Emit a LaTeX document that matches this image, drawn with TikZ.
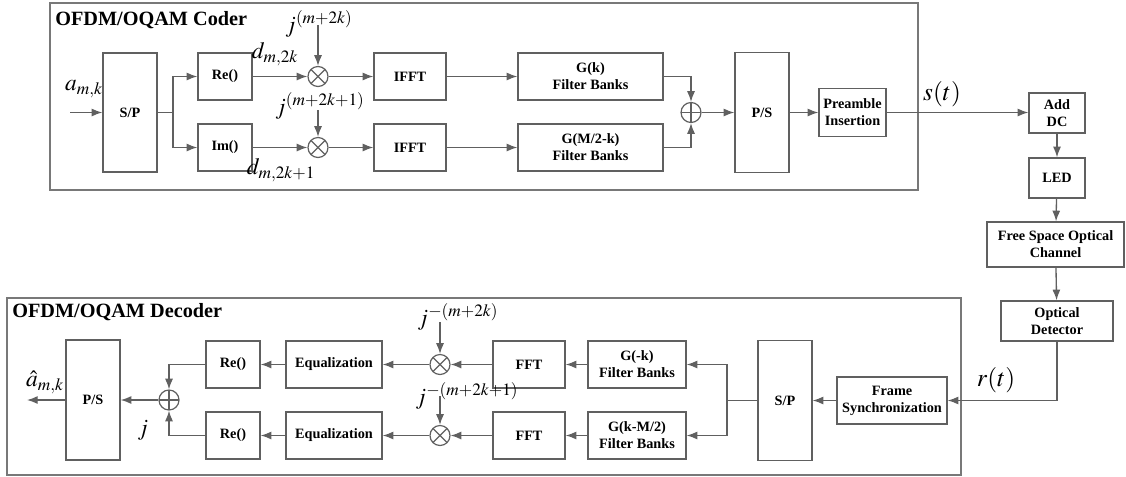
\documentclass[tikz,border=0pt]{standalone}
\usepackage{mathptmx}
\usepackage[no-math]{fontspec}
\setmainfont{Liberation Serif}
\usetikzlibrary{arrows.meta, calc, positioning}
\definecolor{blockgray}{RGB}{96,96,96}

\begin{document}
\begin{tikzpicture}[x=0.75pt, y=-0.75pt,
    blk/.style 2 args={draw=blockgray, line width=1pt, inner sep=1pt, align=center,
        minimum width=#1*0.75pt, minimum height=#2*0.75pt,
        font=\fontsize{10.7}{12.7}\selectfont\bfseries},
    mult/.style={draw=blockgray, line width=0.9pt, circle, minimum size=15pt, inner sep=0pt,
        path picture={\draw[blockgray, line width=0.9pt]
            (path picture bounding box.north west) -- (path picture bounding box.south east)
            (path picture bounding box.north east) -- (path picture bounding box.south west);}},
    summ/.style={draw=blockgray, line width=0.9pt, circle, minimum size=15pt, inner sep=0pt,
        path picture={\draw[blockgray, line width=0.9pt]
            (path picture bounding box.north) -- (path picture bounding box.south)
            (path picture bounding box.east) -- (path picture bounding box.west);}},
    arr/.style={draw=blockgray, line width=1pt, -{Latex[length=8pt, width=6pt]}},
    ln/.style={draw=blockgray, line width=1pt},
    frame/.style={draw=blockgray!85, line width=1.1pt},
    lbl/.style={font=\fontsize{17.5}{17.5}\selectfont, inner sep=0pt},
    ttl/.style={font=\fontsize{15.2}{16}\selectfont\bfseries, anchor=west, inner sep=0pt}]

    \useasboundingbox (0,0) rectangle (1126,476);

    % coder
    \draw[frame] (50,3) rectangle (918,190);
    \node[ttl] (coderT) at (55,20) {OFDM/OQAM Coder};

    \node[blk={54}{119}] (SPc) at (130,112.5) {S/P};
    \node[blk={54}{47}] (ReC) at (225,76.5) {Re()};
    \node[blk={54}{47}] (ImC) at (225,147.5) {Im()};
    \node[mult] (MulA) at (318,76.5) {};
    \node[mult] (MulB) at (318,147.5) {};
    \node[blk={72}{47}] (IfftA) at (410,76.5) {IFFT};
    \node[blk={72}{47}] (IfftB) at (410,147.5) {IFFT};
    \node[blk={145}{47}] (GA) at (590.5,76.5) {G(k)\\Filter Banks};
    \node[blk={145}{47}] (GB) at (590.5,147.5) {G(M/2-k)\\Filter Banks};
    \node[summ] (SumC) at (691,112.5) {};
    \node[blk={54}{120}] (PSc) at (762,112.5) {P/S};
    \node[blk={67}{48}] (Pre) at (852.5,112.5) {Preamble\\Insertion};

    \coordinate (Ain) at (70,112.5);
    \coordinate (SplitC) at (173,112.5);
    \coordinate (JAin) at (318,25);
    \coordinate (JBin) at (318,110);

    \node[lbl] at (84,89) {$a_{m,k}$};
    \node[lbl] at (275,54) {$d_{m,2k}$};
    \node[lbl] at (281,170) {$d_{m,2k+1}$};
    \node[lbl] at (319,24) {$j^{(m+2k)}$};
    \node[lbl] at (320,106) {$j^{(m+2k+1)}$};
    \node[lbl, font=\fontsize{19}{19}\selectfont] at (942,94) {$s(t)$};

    \draw[arr] (Ain) -- (SPc);
    \draw[ln] (SPc) -- (SplitC);
    \draw[arr] (SplitC) |- (ReC);
    \draw[arr] (SplitC) |- (ImC);
    \draw[arr] (ReC) -- (MulA);
    \draw[arr] (ImC) -- (MulB);
    \draw[arr] (JAin) -- (MulA);
    \draw[arr] (JBin) -- (MulB);
    \draw[arr] (MulA) -- (IfftA);
    \draw[arr] (MulB) -- (IfftB);
    \draw[arr] (IfftA) -- (GA);
    \draw[arr] (IfftB) -- (GB);
    \draw[arr] (GA.east) -| (SumC.north);
    \draw[arr] (GB.east) -| (SumC.south);
    \draw[arr] (SumC) -- (PSc);
    \draw[arr] (PSc) -- (Pre);

    % channel
    \node[blk={56}{40}] (AddDC) at (1057,113) {Add\\DC};
    \node[blk={56}{40}] (Led) at (1057,178) {LED};
    \node[blk={137}{45}] (Fso) at (1055.5,244.5) {Free Space Optical\\Channel};
    \node[blk={112}{40}] (Det) at (1057,321) {Optical\\Detector};

    \draw[arr] (Pre.east) -- (AddDC.west |- Pre.east);
    \draw[arr] (AddDC) -- (Led);
    \draw[arr] (Led) -- (Fso);
    \draw[arr] (Fso) -- (Det);

    % decoder
    \draw[frame] (7,298) rectangle (961,475);
    \node[ttl] (decoderT) at (12,312) {OFDM/OQAM Decoder};

    \node[blk={110}{47}] (Frs) at (892,400.5) {Frame\\Synchronization};
    \node[blk={54}{120}] (SPd) at (785,400.5) {S/P};
    \node[blk={98}{47}] (GC) at (637,364.5) {G(-k)\\Filter Banks};
    \node[blk={98}{47}] (GD) at (637,435.5) {G(k-M/2)\\Filter Banks};
    \node[blk={72}{47}] (FftA) at (529,364.5) {FFT};
    \node[blk={72}{47}] (FftB) at (529,435.5) {FFT};
    \node[mult] (MulC) at (440,364.5) {};
    \node[mult] (MulD) at (440,435.5) {};
    \node[blk={96}{47}] (EqA) at (334,364.5) {Equalization};
    \node[blk={96}{47}] (EqB) at (334,435.5) {Equalization};
    \node[blk={54}{47}] (ReA) at (233,364.5) {Re()};
    \node[blk={54}{47}] (ReB) at (233,435.5) {Re()};
    \node[summ] (SumD) at (169,400) {};
    \node[blk={54}{120}] (PSd) at (93,400) {P/S};

    \coordinate (SplitD) at (727,400.5);
    \coordinate (JCin) at (440,322);
    \coordinate (JDin) at (440,396);
    \coordinate (Aout) at (27,400);

    \node[lbl] at (458,317) {$j^{-(m+2k)}$};
    \node[lbl] at (467,396) {$j^{-(m+2k+1)}$};
    \node[lbl] at (143,430) {$j$};
    \node[lbl] at (45,382) {$\hat{a}_{m,k}$};
    \node[lbl, font=\fontsize{19}{19}\selectfont] at (996,380) {$r(t)$};

    \draw[arr] (Det.south) |- (Frs.east);
    \draw[arr] (Frs) -- (SPd);
    \draw[ln] (SPd) -- (SplitD);
    \draw[arr] (SplitD) |- (GC.east);
    \draw[arr] (SplitD) |- (GD.east);
    \draw[arr] (GC) -- (FftA);
    \draw[arr] (GD) -- (FftB);
    \draw[arr] (FftA) -- (MulC);
    \draw[arr] (FftB) -- (MulD);
    \draw[arr] (JCin) -- (MulC);
    \draw[arr] (JDin) -- (MulD);
    \draw[arr] (MulC) -- (EqA);
    \draw[arr] (MulD) -- (EqB);
    \draw[arr] (EqA) -- (ReA);
    \draw[arr] (EqB) -- (ReB);
    \draw[arr] (ReA.west) -| (SumD.north);
    \draw[arr] (ReB.west) -| (SumD.south);
    \draw[arr] (SumD) -- (PSd);
    \draw[arr] (PSd) -- (Aout);
\end{tikzpicture}
\end{document}
